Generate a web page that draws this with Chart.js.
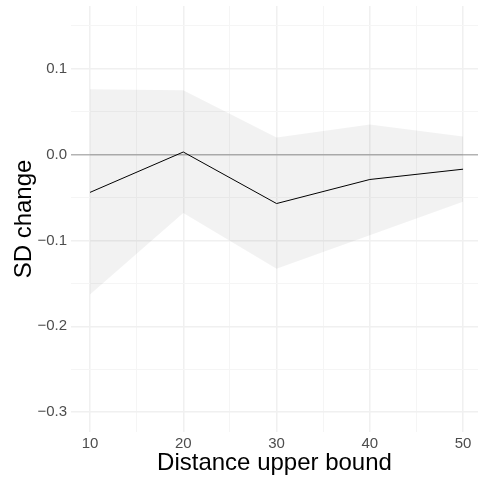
<!DOCTYPE html>
<html>
<head>
<meta charset="utf-8">
<script src="https://cdn.jsdelivr.net/npm/chart.js@4"></script>
<style>
  html, body { margin: 0; padding: 0; background: #fff; }
  #wrap { width: 478px; height: 480px; }
</style>
</head>
<body>
<div id="wrap"><canvas id="sdChart" width="478" height="480"></canvas></div>
<script>
var distances = [10, 20, 30, 40, 50];
var sdChange = [-0.044, 0.003, -0.057, -0.029, -0.017];
var ciUpper = [0.076, 0.075, 0.020, 0.035, 0.021];
var ciLower = [-0.163, -0.068, -0.133, -0.094, -0.055];
var xTicks = [10, 20, 30, 40, 50];
var yTicks = [-0.3, -0.2, -0.1, 0.0, 0.1];

var font = "'Liberation Sans', Arial, sans-serif";

function pts(ys) {
    return distances.map(function (x, i) { return {x: x, y: ys[i]}; });
}

function isMajorX(v) {
    return xTicks.indexOf(Math.round(v)) !== -1;
}
function isMajorY(v) {
    return yTicks.some(function (t) { return Math.abs(t - v) < 1e-6; });
}

var ctx = document.getElementById("sdChart");
new Chart(ctx, {
    type: 'line',
    data: {
        datasets: [{
            label: "upper",
            data: pts(ciUpper),
            borderWidth: 0,
            pointRadius: 0,
            backgroundColor: "rgba(0,0,0,0.05)",
            fill: '+1'
        },
        {
            label: "lower",
            data: pts(ciLower),
            borderWidth: 0,
            pointRadius: 0,
            fill: false
        },
        {
            label: "SD change",
            data: pts(sdChange),
            borderColor: "#000000",
            borderWidth: 1,
            pointRadius: 0,
            fill: false
        }]
    },
    options: {
        responsive: false,
        animation: false,
        layout: { padding: { top: 6, right: 0, left: 0, bottom: 0 } },
        plugins: { legend: { display: false }, tooltip: { enabled: false } },
        scales: {
            x: {
                type: 'linear',
                min: 7.96,
                max: 51.6,
                border: { display: false },
                grid: {
                    drawTicks: false,
                    tickLength: 0,
                    color: function (c) { return isMajorX(c.tick.value) ? '#f0f0f0' : '#f5f5f5'; },
                    lineWidth: function (c) { return isMajorX(c.tick.value) ? 1.5 : 1; }
                },
                ticks: {
                    stepSize: 5,
                    includeBounds: false,
                    autoSkip: false,
                    maxRotation: 0,
                    padding: 3,
                    color: '#4d4d4d',
                    font: { family: font, size: 15 },
                    callback: function (v) { return isMajorX(v) ? String(Math.round(v)) : ''; }
                },
                title: {
                    display: true,
                    text: 'Distance upper bound',
                    color: '#000000',
                    font: { family: font, size: 24 },
                    padding: { top: 0, bottom: 2 }
                },
                afterFit: function (s) { s.height = 48; s.paddingLeft = 0; s.paddingRight = 0; }
            },
            y: {
                min: -0.323,
                max: 0.173,
                border: { display: false },
                grid: {
                    drawTicks: false,
                    tickLength: 0,
                    color: function (c) {
                        if (Math.abs(c.tick.value) < 1e-6) return '#b3b3b3';
                        return isMajorY(c.tick.value) ? '#f0f0f0' : '#f5f5f5';
                    },
                    lineWidth: function (c) { return isMajorY(c.tick.value) ? 1.5 : 1; }
                },
                ticks: {
                    stepSize: 0.05,
                    includeBounds: false,
                    autoSkip: false,
                    padding: 4,
                    color: '#4d4d4d',
                    font: { family: font, size: 15 },
                    callback: function (v) {
                        if (!isMajorY(v)) return '';
                        var s = Math.abs(v).toFixed(1);
                        return v < -1e-6 ? '\u2212' + s : s;
                    }
                },
                title: {
                    display: true,
                    text: 'SD change',
                    color: '#000000',
                    font: { family: font, size: 24 },
                    padding: { top: 10, bottom: 0 }
                },
                afterFit: function (s) { s.width = 71; s.paddingTop = 0; s.paddingBottom = 0; }
            }
        }
    }
});
</script>
</body>
</html>
